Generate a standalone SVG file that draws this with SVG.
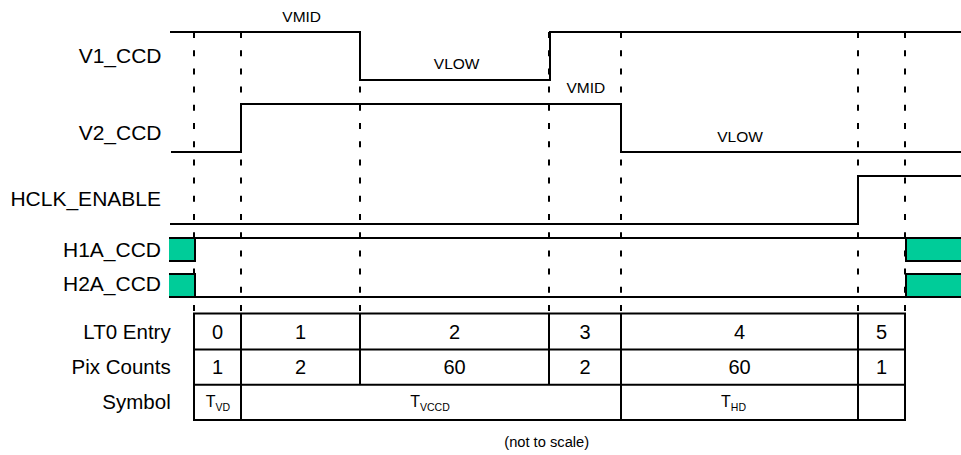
<svg xmlns="http://www.w3.org/2000/svg" width="961" height="455" viewBox="0 0 961 455">
<style>
.bg{fill:#ffffff}
.wave{fill:none;stroke:#000;stroke-width:2}
.dash{fill:none;stroke:#000;stroke-width:2;stroke-dasharray:6 12.2}
.grn{fill:#00cc99;stroke:none}
.grid{fill:none;stroke:#000;stroke-width:2}
.lbl{font-family:"Liberation Sans",Arial,sans-serif;font-size:21px;fill:#000;text-anchor:end}
.tlbl{font-family:"Liberation Sans",Arial,sans-serif;font-size:20.5px;fill:#000;text-anchor:end}
.num{font-family:"Liberation Sans",Arial,sans-serif;font-size:20px;fill:#000;text-anchor:middle}
.lvl{font-family:"Liberation Sans",Arial,sans-serif;font-size:15.5px;fill:#000;text-anchor:middle}
.sym{font-family:"Liberation Sans",Arial,sans-serif;font-size:16px;fill:#000;text-anchor:middle}
.sub{font-size:10.5px}
.note{font-family:"Liberation Sans",Arial,sans-serif;font-size:14.7px;fill:#000;text-anchor:middle}
</style>
<rect class="bg" x="0" y="0" width="961" height="455"/>

<g id="connectors">
  <line class="dash" x1="194" y1="32" x2="194" y2="313"/>
  <line class="dash" x1="241" y1="32" x2="241" y2="313"/>
  <line class="dash" x1="360" y1="32" x2="360" y2="313"/>
  <line class="dash" x1="549" y1="32" x2="549" y2="313"/>
  <line class="dash" x1="621" y1="32" x2="621" y2="313"/>
  <line class="dash" x1="858" y1="32" x2="858" y2="313"/>
  <line class="dash" x1="905" y1="32" x2="905" y2="313"/>
</g>

<g id="V1_CCD">
  <text class="lbl" x="161.5" y="62.5">V1_CCD</text>
  <polyline class="wave" points="170,32 360,32 360,80 550,80 550,32 961,32"/>
  <text class="lvl" x="301.7" y="21.5">VMID</text>
  <text class="lvl" x="456.7" y="69.3">VLOW</text>
</g>

<g id="V2_CCD">
  <text class="lbl" x="161.5" y="140">V2_CCD</text>
  <polyline class="wave" points="171,152 241,152 241,104 621,104 621,152 961,152"/>
  <text class="lvl" x="585.8" y="93.3">VMID</text>
  <text class="lvl" x="740" y="141.7">VLOW</text>
</g>

<g id="HCLK_ENABLE">
  <text class="lbl" x="161" y="205.7">HCLK_ENABLE</text>
  <polyline class="wave" points="170,224 858,224 858,176 961,176"/>
</g>

<g id="H1A_CCD">
  <text class="lbl" x="161" y="257.3">H1A_CCD</text>
  <rect class="grn" x="169" y="238" width="26" height="23"/>
  <rect class="grn" x="906" y="238" width="56" height="23"/>
  <polyline class="wave" points="169,261 195,261 195,238"/>
  <line class="wave" x1="169" y1="238" x2="961" y2="238"/>
  <polyline class="wave" points="962,261 906,261 906,238"/>
</g>

<g id="H2A_CCD">
  <text class="lbl" x="161" y="290.7">H2A_CCD</text>
  <rect class="grn" x="169" y="274" width="26" height="23"/>
  <rect class="grn" x="906" y="274" width="56" height="23"/>
  <polyline class="wave" points="169,274 195,274 195,297"/>
  <line class="wave" x1="169" y1="297" x2="961" y2="297"/>
  <polyline class="wave" points="962,274 906,274 906,297"/>
</g>

<g id="table">
  <text class="tlbl" x="170.7" y="339">LT0 Entry</text>
  <text class="tlbl" x="170.7" y="374">Pix Counts</text>
  <text class="tlbl" x="170.7" y="409">Symbol</text>
  <rect class="grid" x="194" y="313.5" width="711" height="106.5"/>
  <line class="grid" x1="194" y1="349.5" x2="905" y2="349.5"/>
  <line class="grid" x1="194" y1="384.7" x2="905" y2="384.7"/>
  <line class="grid" x1="241" y1="313.5" x2="241" y2="420"/>
  <line class="grid" x1="360" y1="313.5" x2="360" y2="384.7"/>
  <line class="grid" x1="549" y1="313.5" x2="549" y2="384.7"/>
  <line class="grid" x1="621" y1="313.5" x2="621" y2="420"/>
  <line class="grid" x1="858" y1="313.5" x2="858" y2="420"/>

  <text class="num" x="217.5" y="339">0</text>
  <text class="num" x="300.5" y="339">1</text>
  <text class="num" x="454.5" y="339">2</text>
  <text class="num" x="585" y="339">3</text>
  <text class="num" x="739.5" y="339">4</text>
  <text class="num" x="881.5" y="339">5</text>

  <text class="num" x="217.5" y="374">1</text>
  <text class="num" x="300.5" y="374">2</text>
  <text class="num" x="454.5" y="374">60</text>
  <text class="num" x="585" y="374">2</text>
  <text class="num" x="739.5" y="374">60</text>
  <text class="num" x="881.5" y="374">1</text>

  <text class="sym" x="218" y="406.7">T<tspan class="sub" dy="4">VD</tspan></text>
  <text class="sym" x="430" y="406.7">T<tspan class="sub" dy="4">VCCD</tspan></text>
  <text class="sym" x="733.5" y="406.7">T<tspan class="sub" dy="4">HD</tspan></text>
</g>

<text class="note" x="546.7" y="447">(not to scale)</text>
</svg>
